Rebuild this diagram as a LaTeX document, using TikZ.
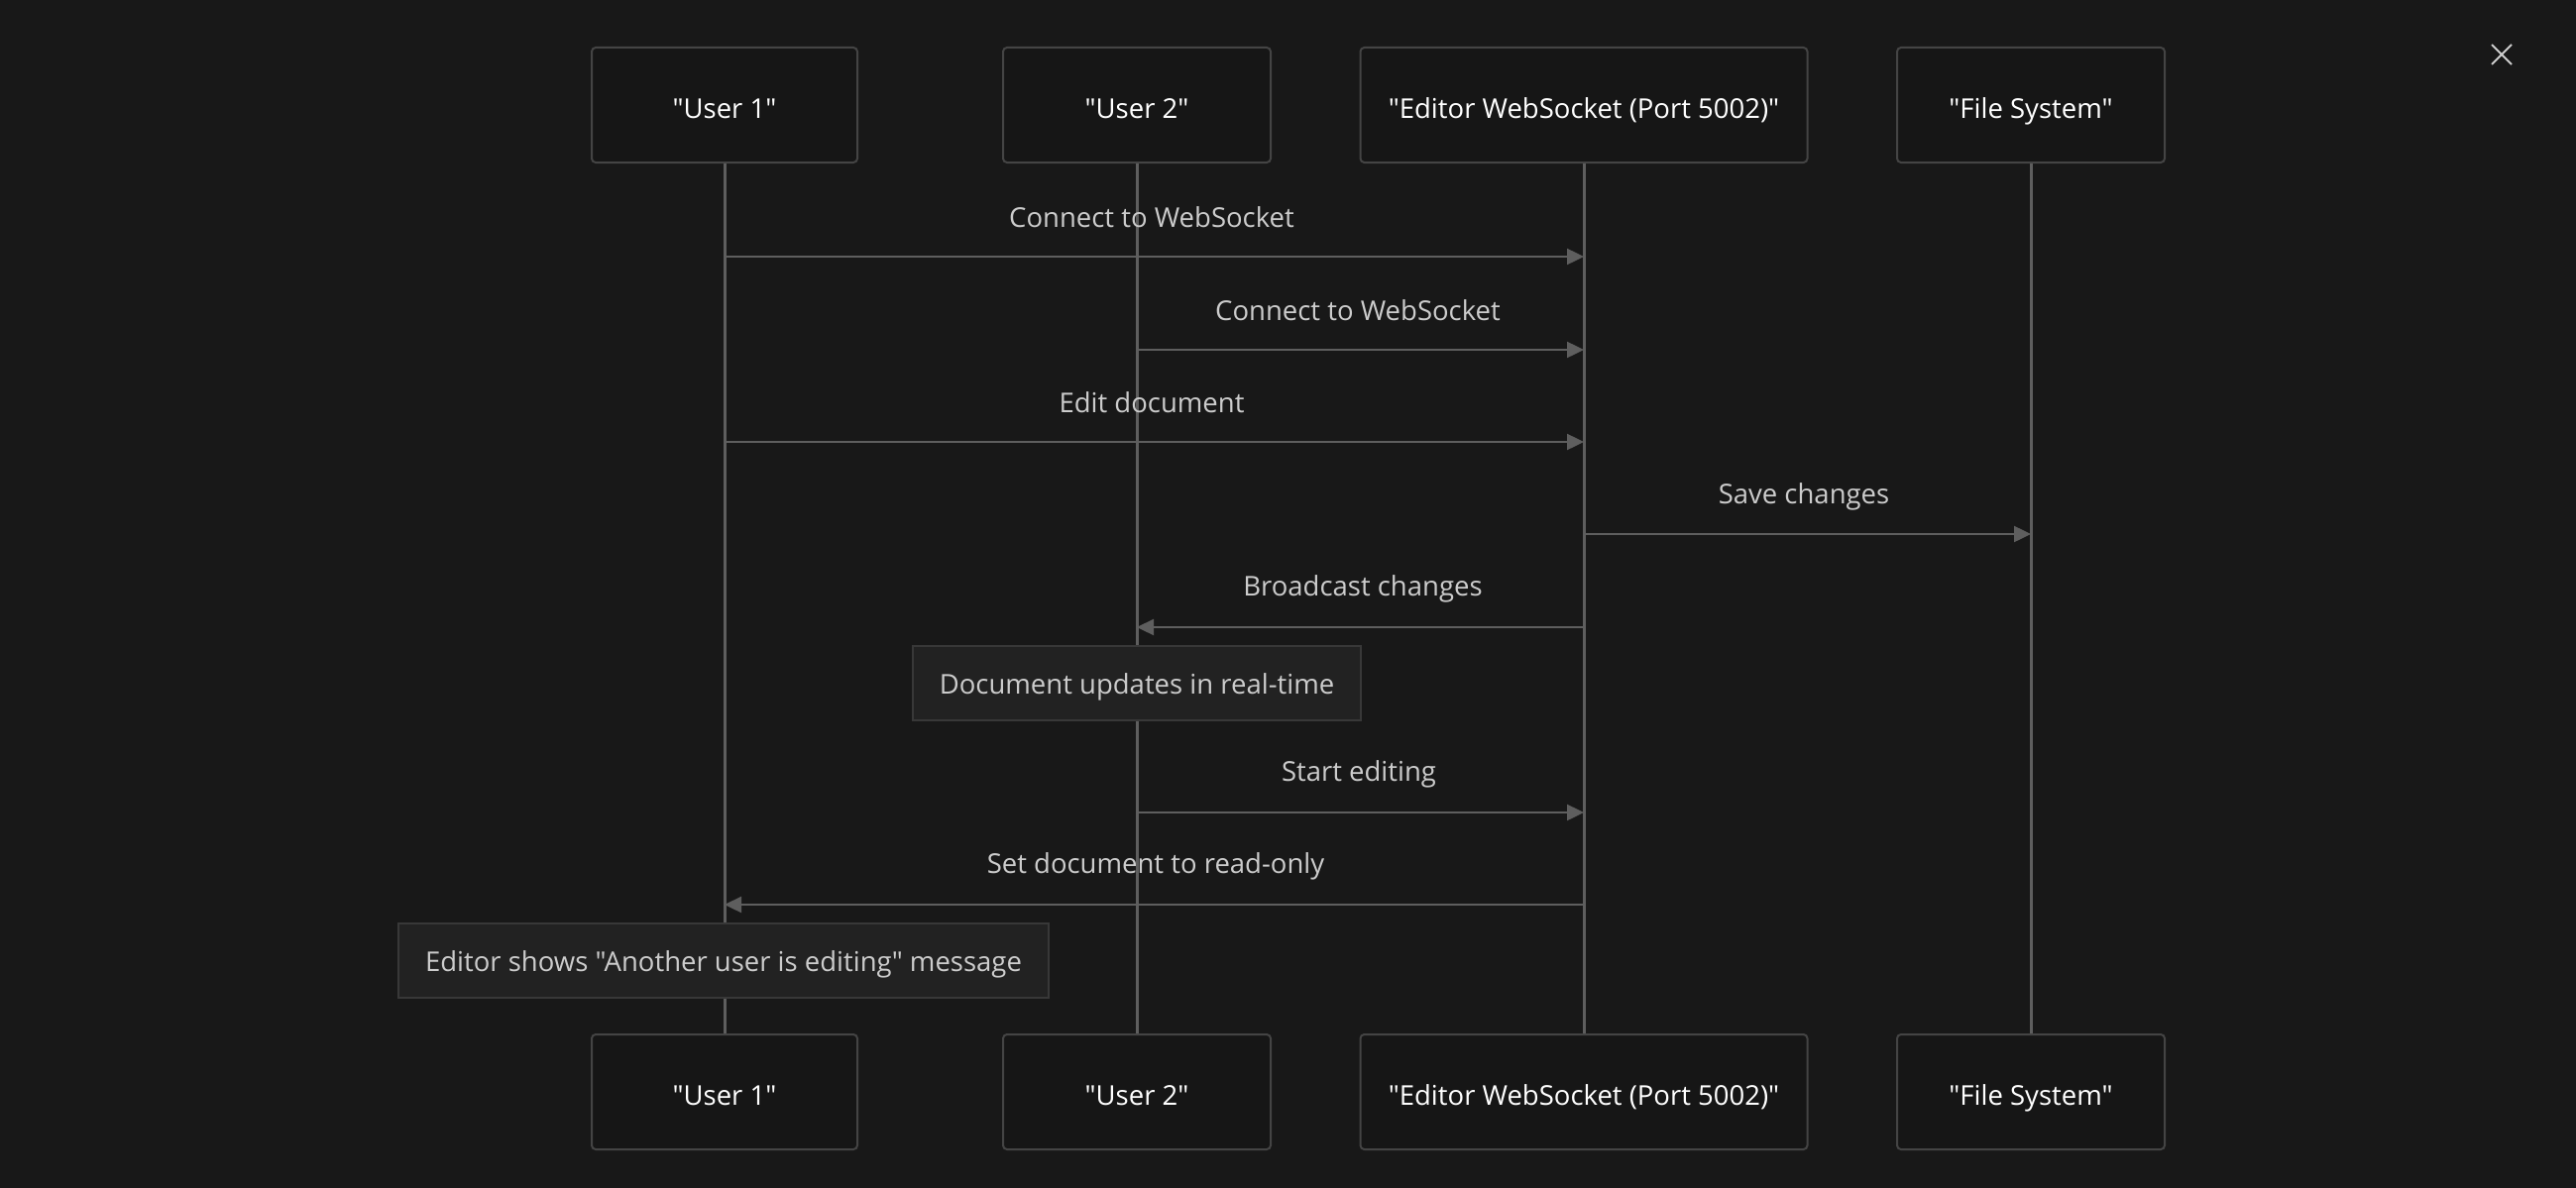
\documentclass[tikz,border=0pt]{standalone}
\usepackage{fontspec}
\newfontfamily\uifont{Open Sans}
\usetikzlibrary{arrows.meta,calc}
\definecolor{bg}{HTML}{181818}
\definecolor{boxfill}{HTML}{161616}
\definecolor{boxline}{HTML}{444444}
\definecolor{notefill}{HTML}{222222}
\definecolor{noteline}{HTML}{383838}
\definecolor{wire}{HTML}{5E5E5E}
\definecolor{lbl}{HTML}{CCCCCC}
\tikzset{
  actor/.style={draw=boxline, line width=2pt, fill=boxfill, rounded corners=4pt, minimum width=268pt, minimum height=116pt, text=white, font=\uifont\fontsize{27.5}{32}\selectfont, inner sep=0pt, text height=27pt, text depth=0pt},
  lifeline/.style={draw=wire, line width=3pt},
  msg/.style={draw=wire, line width=2.4pt, -{Triangle[length=17pt,width=16pt]}},
  msglabel/.style={text=lbl, font=\uifont\fontsize{27.5}{32}\selectfont, inner sep=0pt},
  note/.style={draw=noteline, line width=2pt, fill=notefill, text=lbl, font=\uifont\fontsize{27.5}{32}\selectfont, minimum height=75pt, inner xsep=27pt, text height=22pt, text depth=0pt},
}
\begin{document}
\begin{tikzpicture}[x=1pt,y=-1pt]
\fill[bg] (0,0) rectangle (2599,1199);
\useasboundingbox (0,0) rectangle (2599,1199);
% close icon
\coordinate (xc) at (2524,55);
\draw[lbl, line width=2pt] ($(xc)+(-10,-10)$) -- ($(xc)+(10,10)$);
\draw[lbl, line width=2pt] ($(xc)+(-10,10)$) -- ($(xc)+(10,-10)$);
% actors
\node[actor, minimum width=268pt] (u1t) at (731,106) {"User 1"};
\node[actor, minimum width=270pt] (u2t) at (1147,106) {"User 2"};
\node[actor, minimum width=451pt] (edt) at (1598,106) {"Editor WebSocket (Port 5002)"};
\node[actor, minimum width=270pt] (fst) at (2049,106) {"File System"};
\node[actor, minimum width=268pt] (u1b) at (731,1102) {"User 1"};
\node[actor, minimum width=270pt] (u2b) at (1147,1102) {"User 2"};
\node[actor, minimum width=451pt] (edb) at (1598,1102) {"Editor WebSocket (Port 5002)"};
\node[actor, minimum width=270pt] (fsb) at (2049,1102) {"File System"};
% lifelines
\draw[lifeline] (u1t.south) -- (u1b.north);
\draw[lifeline] (u2t.south) -- (u2b.north);
\draw[lifeline] (edt.south) -- (edb.north);
\draw[lifeline] (fst.south) -- (fsb.north);
% message coordinates
\coordinate (a1s) at (731,259); \coordinate (a1e) at (1598,259);
\coordinate (a2s) at (1147,353); \coordinate (a2e) at (1598,353);
\coordinate (a3s) at (731,446); \coordinate (a3e) at (1598,446);
\coordinate (a4s) at (1598,539); \coordinate (a4e) at (2049,539);
\coordinate (a5s) at (1598,633); \coordinate (a5e) at (1147,633);
\coordinate (a6s) at (1147,820); \coordinate (a6e) at (1598,820);
\coordinate (a7s) at (1598,913); \coordinate (a7e) at (731,913);
\draw[msg] (a1s) -- (a1e);
\draw[msg] (a2s) -- (a2e);
\draw[msg] (a3s) -- (a3e);
\draw[msg] (a4s) -- (a4e);
\draw[msg] (a5s) -- (a5e);
\draw[msg] (a6s) -- (a6e);
\draw[msg] (a7s) -- (a7e);
\node[msglabel] (l1) at (1162,219) {Connect to WebSocket};
\node[msglabel] (l2) at (1370,313) {Connect to WebSocket};
\node[msglabel] (l3) at (1162,406) {Edit document};
\node[msglabel] (l4) at (1820,501) {Save changes};
\node[msglabel] (l5) at (1375,594) {Broadcast changes};
\node[msglabel] (l6) at (1371,781) {Start editing};
\node[msglabel] (l7) at (1166,874) {Set document to read-only};
% notes
\node[note, minimum width=446pt] (n1) at (1147,689) {Document updates in real-time};
\node[note, minimum width=654pt] (n2) at (730,969) {Editor shows "Another user is editing" message};
\end{tikzpicture}
\end{document}
